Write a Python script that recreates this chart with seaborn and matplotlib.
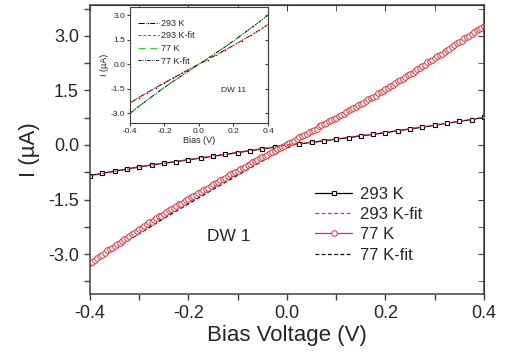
import matplotlib
matplotlib.use('Agg')
import matplotlib.pyplot as plt
import seaborn as sns
import pandas as pd
from matplotlib.ticker import MultipleLocator

# main panel (DW 1): I-V at 293 K and 77 K
bias_293 = [-0.400, -0.375, -0.350, -0.325, -0.300, -0.275, -0.250, -0.225, -0.200, -0.175, -0.150,
            -0.125, -0.100, -0.075, -0.050, -0.025, 0.000, 0.025, 0.050, 0.075, 0.100, 0.125,
            0.150, 0.175, 0.200, 0.225, 0.250, 0.275, 0.300, 0.325, 0.350, 0.375, 0.400]
i_293 = [-0.84, -0.78, -0.72, -0.66, -0.60, -0.55, -0.50, -0.46, -0.41, -0.36, -0.31,
         -0.26, -0.21, -0.16, -0.11, -0.06, -0.01, 0.03, 0.07, 0.11, 0.16, 0.20,
         0.25, 0.29, 0.34, 0.39, 0.44, 0.49, 0.54, 0.60, 0.65, 0.70, 0.76]

bias_77 = [-0.400, -0.395, -0.390, -0.385, -0.380, -0.375, -0.370, -0.365, -0.360, -0.355,
           -0.350, -0.345, -0.340, -0.335, -0.330, -0.325, -0.320, -0.315, -0.310, -0.305,
           -0.300, -0.295, -0.290, -0.285, -0.280, -0.275, -0.270, -0.265, -0.260, -0.255,
           -0.250, -0.245, -0.240, -0.235, -0.230, -0.225, -0.220, -0.215, -0.210, -0.205,
           -0.200, -0.195, -0.190, -0.185, -0.180, -0.175, -0.170, -0.165, -0.160, -0.155,
           -0.150, -0.145, -0.140, -0.135, -0.130, -0.125, -0.120, -0.115, -0.110, -0.105,
           -0.100, -0.095, -0.090, -0.085, -0.080, -0.075, -0.070, -0.065, -0.060, -0.055,
           -0.050, -0.045, -0.040, -0.035, -0.030, -0.025, -0.020, -0.015, -0.010, -0.005,
           0.000, 0.005, 0.010, 0.015, 0.020, 0.025, 0.030, 0.035, 0.040, 0.045,
           0.050, 0.055, 0.060, 0.065, 0.070, 0.075, 0.080, 0.085, 0.090, 0.095,
           0.100, 0.105, 0.110, 0.115, 0.120, 0.125, 0.130, 0.135, 0.140, 0.145,
           0.150, 0.155, 0.160, 0.165, 0.170, 0.175, 0.180, 0.185, 0.190, 0.195,
           0.200, 0.205, 0.210, 0.215, 0.220, 0.225, 0.230, 0.235, 0.240, 0.245,
           0.250, 0.255, 0.260, 0.265, 0.270, 0.275, 0.280, 0.285, 0.290, 0.295,
           0.300, 0.305, 0.310, 0.315, 0.320, 0.325, 0.330, 0.335, 0.340, 0.345,
           0.350, 0.355, 0.360, 0.365, 0.370, 0.375, 0.380, 0.385, 0.390, 0.395, 0.400]
i_77 = [-3.24, -3.22, -3.17, -3.10, -3.05, -3.02, -2.97, -2.90, -2.86, -2.83,
        -2.79, -2.73, -2.70, -2.63, -2.58, -2.55, -2.50, -2.45, -2.42, -2.36,
        -2.31, -2.28, -2.24, -2.17, -2.13, -2.11, -2.07, -2.00, -1.96, -1.94,
        -1.90, -1.83, -1.79, -1.77, -1.73, -1.67, -1.63, -1.61, -1.57, -1.52,
        -1.48, -1.43, -1.40, -1.37, -1.33, -1.28, -1.24, -1.21, -1.17, -1.12,
        -1.08, -1.05, -1.01, -0.96, -0.93, -0.90, -0.86, -0.81, -0.78, -0.75,
        -0.71, -0.66, -0.63, -0.60, -0.56, -0.51, -0.48, -0.45, -0.41, -0.36,
        -0.33, -0.30, -0.27, -0.22, -0.19, -0.16, -0.12, -0.08, -0.05, -0.02,
        0.02, 0.06, 0.09, 0.12, 0.16, 0.21, 0.24, 0.27, 0.31, 0.36,
        0.39, 0.41, 0.45, 0.51, 0.54, 0.57, 0.61, 0.66, 0.69, 0.71,
        0.75, 0.80, 0.83, 0.86, 0.90, 0.95, 0.98, 1.01, 1.05, 1.10,
        1.13, 1.16, 1.20, 1.26, 1.29, 1.32, 1.36, 1.42, 1.45, 1.48,
        1.53, 1.58, 1.61, 1.65, 1.70, 1.75, 1.78, 1.81, 1.86, 1.92,
        1.95, 1.98, 2.03, 2.09, 2.13, 2.16, 2.21, 2.27, 2.30, 2.33,
        2.38, 2.44, 2.47, 2.51, 2.57, 2.62, 2.65, 2.69, 2.75, 2.80,
        2.83, 2.87, 2.93, 2.98, 3.01, 3.05, 3.11, 3.15, 3.18, 3.22, 3.27]

bias_fit = [-0.40, -0.35, -0.30, -0.25, -0.20, -0.15, -0.10, -0.05, 0.00,
            0.05, 0.10, 0.15, 0.20, 0.25, 0.30, 0.35, 0.40]
fit_293 = [-0.85, -0.73, -0.61, -0.50, -0.40, -0.30, -0.20, -0.10, 0.00,
           0.08, 0.17, 0.26, 0.35, 0.45, 0.55, 0.65, 0.76]
fit_77 = [-3.28, -2.86, -2.44, -2.02, -1.62, -1.22, -0.83, -0.44, -0.05,
          0.34, 0.73, 1.12, 1.52, 1.93, 2.36, 2.80, 3.25]

# inset (DW 11)
inset_bias = [-0.40, -0.35, -0.30, -0.25, -0.20, -0.15, -0.10, -0.05, 0.00,
              0.05, 0.10, 0.15, 0.20, 0.25, 0.30, 0.35, 0.40]
inset_293 = [-2.38, -2.05, -1.74, -1.44, -1.14, -0.85, -0.56, -0.27, 0.00,
             0.28, 0.57, 0.86, 1.15, 1.45, 1.76, 2.08, 2.42]
inset_293_fit = [-2.36, -2.04, -1.73, -1.43, -1.13, -0.84, -0.56, -0.28, 0.00,
                 0.28, 0.57, 0.86, 1.15, 1.46, 1.77, 2.09, 2.43]
inset_77 = [-3.02, -2.60, -2.20, -1.80, -1.42, -1.06, -0.70, -0.35, 0.00,
            0.35, 0.70, 1.06, 1.43, 1.82, 2.20, 2.60, 3.02]
inset_77_fit = [-3.00, -2.59, -2.19, -1.80, -1.42, -1.05, -0.70, -0.35, 0.00,
                0.35, 0.70, 1.05, 1.42, 1.81, 2.20, 2.59, 3.00]

red = '#e0303c'
green = '#33cc33'

sns.set_style('ticks')
plt.rcParams['font.family'] = ['Liberation Sans', 'DejaVu Sans']

fig = plt.figure(figsize=(5.07, 3.59), dpi=100)
ax = fig.add_axes([0.1775, 0.181, 0.777, 0.805])

df293 = pd.DataFrame({'V': bias_293, 'I': i_293})
df77 = pd.DataFrame({'V': bias_77, 'I': i_77})
dffit = pd.DataFrame({'V': bias_fit, 'I293': fit_293, 'I77': fit_77})

sns.lineplot(data=df293, x='V', y='I', ax=ax, color='black', lw=0.9, marker='s',
             markersize=3.5, markerfacecolor='white', markeredgecolor='black',
             markeredgewidth=0.8, sort=False, label='293 K')
sns.lineplot(data=dffit, x='V', y='I293', ax=ax, color=red, lw=0.9, linestyle=(0, (3, 2)),
             sort=False, label='293 K-fit', zorder=3)
sns.lineplot(data=df77, x='V', y='I', ax=ax, color=red, lw=0.9, marker='o',
             markersize=4, markerfacecolor='white', markeredgecolor=red,
             markeredgewidth=0.7, sort=False, label='77 K')
sns.lineplot(data=dffit, x='V', y='I77', ax=ax, color='black', lw=0.9, linestyle=(0, (3, 2)),
             sort=False, label='77 K-fit', zorder=1)

ax.set_xlim(-0.4, 0.4)
ax.set_ylim(-4.1, 3.85)
ax.xaxis.set_major_locator(MultipleLocator(0.2))
ax.xaxis.set_minor_locator(MultipleLocator(0.1))
ax.yaxis.set_major_locator(MultipleLocator(1.5))
ax.yaxis.set_minor_locator(MultipleLocator(0.75))
ax.set_xticklabels([f'{v:.1f}' for v in ax.get_xticks()])
ax.set_yticklabels([f'{v:.1f}' for v in ax.get_yticks()])
ax.tick_params(which='both', direction='out', labelsize=13, color='#404040', width=1)
ax.tick_params(which='major', length=4, pad=4)
ax.tick_params(which='minor', length=4)
for s in ax.spines.values():
    s.set_visible(True)
    s.set_color('#404040')
    s.set_linewidth(1.1)

top = ax.secondary_xaxis('top')
top.xaxis.set_major_locator(MultipleLocator(0.2))
top.xaxis.set_minor_locator(MultipleLocator(0.1))
top.tick_params(which='both', direction='in', length=4, labeltop=False, color='#404040')
right = ax.secondary_yaxis('right')
right.yaxis.set_major_locator(MultipleLocator(1.5))
right.yaxis.set_minor_locator(MultipleLocator(0.75))
right.tick_params(which='both', direction='in', length=4, labelright=False, color='#404040')

ax.set_xlabel('Bias Voltage (V)', fontsize=16, labelpad=2)
ax.set_ylabel('I (\u00b5A)', fontsize=16, labelpad=6)
ax.text(-0.118, -2.53, 'DW 1', fontsize=12.5, ha='center', va='center')

leg = ax.legend(loc='upper left', bbox_to_anchor=(0.555, 0.395), frameon=False,
                fontsize=12, handlelength=2.2, handletextpad=0.5, labelspacing=0.32,
                borderaxespad=0)

# inset
ins = fig.add_axes([0.2564, 0.6574, 0.2722, 0.323])
dfi = pd.DataFrame({'V': inset_bias, 'I293': inset_293, 'F293': inset_293_fit,
                    'I77': inset_77, 'F77': inset_77_fit})
sns.lineplot(data=dfi, x='V', y='I293', ax=ins, color='black', lw=0.7, linestyle='-.',
             marker='o', markersize=1.8, sort=False, label='293 K')
sns.lineplot(data=dfi, x='V', y='F293', ax=ins, color=red, lw=0.7, linestyle=(0, (3, 2)),
             sort=False, label='293 K-fit')
sns.lineplot(data=dfi, x='V', y='I77', ax=ins, color=green, lw=0.8, linestyle='-.',
             marker='o', markersize=1.2, sort=False, label='77 K')
sns.lineplot(data=dfi, x='V', y='F77', ax=ins, color='black', lw=0.6,
             linestyle=(0, (4, 1.5, 1, 1.5, 1, 1.5)), sort=False, label='77 K-fit')
ins.set_xlim(-0.4, 0.4)
ins.set_ylim(-3.6, 3.5)
ins.xaxis.set_major_locator(MultipleLocator(0.2))
ins.yaxis.set_major_locator(MultipleLocator(1.5))
ins.set_xticklabels([f'{v:.1f}' for v in ins.get_xticks()])
ins.set_yticklabels([f'{v:.1f}' for v in ins.get_yticks()])
ins.tick_params(direction='out', labelsize=6, length=2, pad=1.5, color='#404040')
for s in ins.spines.values():
    s.set_visible(True)
    s.set_color('#404040')
    s.set_linewidth(0.8)
ins_r = ins.secondary_yaxis('right')
ins_r.yaxis.set_major_locator(MultipleLocator(1.5))
ins_r.tick_params(direction='in', length=2, labelright=False, color='#404040')
ins.set_xlabel('Bias (V)', fontsize=6.5, labelpad=1)
ins.set_ylabel('I (\u00b5A)', fontsize=6.5, labelpad=1)
ins.text(0.2, -1.6, 'DW 11', fontsize=6, ha='center', va='center')
ins.legend(loc='upper left', bbox_to_anchor=(0.03, 0.93), frameon=False, fontsize=6.5,
           handlelength=2.3, handletextpad=0.3, labelspacing=0.4, borderaxespad=0)

fig.savefig('out.png', dpi=100)
